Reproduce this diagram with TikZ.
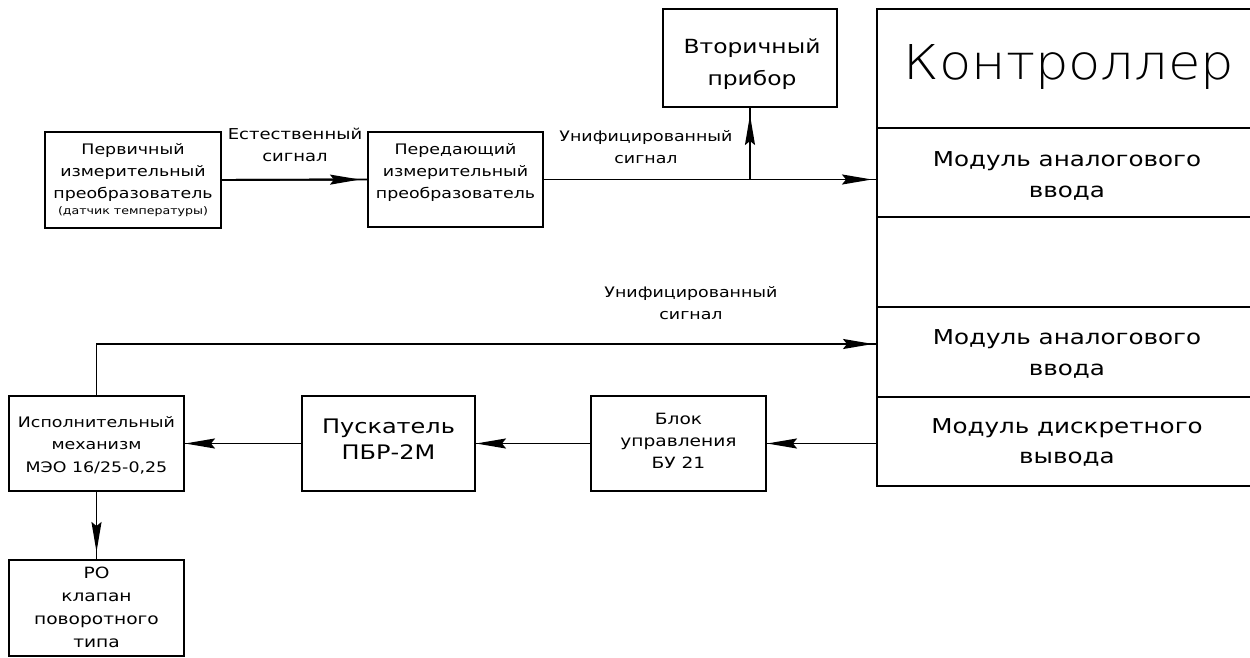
\documentclass[tikz,border=0pt]{standalone}
\usepackage{fontspec}
\setmainfont{DejaVu Sans}[FakeStretch=1.2]
\IfFontExistsTF{DejaVu Sans ExtraLight}{\newfontfamily\thinfont{DejaVu Sans ExtraLight}[FakeStretch=1.1]}{\newfontfamily\thinfont{DejaVu Sans}[FakeStretch=1.1]}
\usetikzlibrary{arrows.meta}
\newcommand\fs[2]{\fontsize{#1}{#2}\selectfont}
\begin{document}
\begin{tikzpicture}[x=1pt,y=-1pt, line width=1.9pt,
 box/.style={draw, rectangle, inner sep=0pt, outer sep=0pt, anchor=center},
 txt/.style={inner sep=0pt, outer sep=0pt, align=center, anchor=center},
 flow/.style={draw, postaction={draw, -{Stealth[length=30pt,width=10pt,inset=4pt]}, shorten >=#1}},
 flow/.default=2pt]
\useasboundingbox (0,0) rectangle (1250,658);
\fill[white] (0,0) rectangle (1250,658);

% top chain
\node[box, minimum width=176pt, minimum height=96pt] (b1) at (133,180) {};
\node[txt, font=\fs{14.5}{22}] (t1) at (133,172) {Первичный\\измерительный\\преобразователь};
\node[txt, font=\fs{10.5}{12}] (t1b) at (133,212) {(датчик температуры)};

\node[box, minimum width=175pt, minimum height=95pt] (b2) at (455.5,179.5) {};
\node[txt, font=\fs{14.5}{22}] (t2) at (455.5,172) {Передающий\\измерительный\\преобразователь};

\node[txt, font=\fs{15}{22}] (l1) at (295,145) {Естественный\\сигнал};

\node[box, minimum width=174pt, minimum height=98pt] (vt) at (750,58) {};
\node[txt, font=\fs{19.5}{32}] (tv) at (752,64) {Вторичный\\прибор};

\node[txt, font=\fs{14.5}{22}] (l2) at (646,147) {Унифицированный\\сигнал};

% controller
\node[box, minimum width=381pt, minimum height=119pt] (ctrl) at (1067.5,68.5) {};
\node[txt, font=\thinfont\fs{48}{52}] (tc) at (1069,67) {Контроллер};
\node[box, minimum width=381pt, minimum height=89pt] (m1) at (1067.5,172.5) {};
\node[box, minimum width=381pt, minimum height=90pt] (m2) at (1067.5,262) {};
\node[box, minimum width=381pt, minimum height=90pt] (m3) at (1067.5,352) {};
\node[box, minimum width=381pt, minimum height=89pt] (m4) at (1067.5,441.5) {};
\node[txt, font=\fs{20.5}{31}] (tm1) at (1067,176) {Модуль аналогового\\ввода};
\node[txt, font=\fs{20.5}{31}] (tm3) at (1067,354) {Модуль аналогового\\ввода};
\node[txt, font=\fs{20.5}{30}] (tm4) at (1067,442) {Модуль дискретного\\вывода};

\node[txt, font=\fs{14.5}{22}] (l3) at (691,303) {Унифицированный\\сигнал};

% bottom chain
\node[box, minimum width=175pt, minimum height=95pt] (isp) at (96.5,443.5) {};
\node[txt, font=\fs{14.5}{22.5}] (ti) at (96.5,445) {Исполнительный\\механизм\\МЭО 16/25-0,25};

\node[box, minimum width=173pt, minimum height=95pt] (pu) at (388.5,443.5) {};
\node[txt, font=\fs{20}{25.5}] (tp) at (388.5,439) {Пускатель\\ПБР-2М};

\node[box, minimum width=175pt, minimum height=95pt] (bl) at (678.5,443.5) {};
\node[txt, font=\fs{15.5}{22}] (tb) at (678.5,441) {Блок\\управления\\БУ 21};

\node[box, minimum width=175pt, minimum height=96pt] (ro) at (96.5,608) {};
\node[txt, font=\fs{15.5}{23}] (tr) at (96.5,607) {РО\\клапан\\поворотного\\типа};

% connectors
\coordinate (br) at (b2.east -| vt.south);
\draw[flow=8pt] (b1.east) -- (b2.west);
\draw[flow=5pt] (b2.east) -- (b2.east -| m1.west);
\draw[flow=8pt] (br) -- (vt.south);
\draw[flow=4pt] (isp.north) |- ([yshift=8pt]m3.west);
\draw[flow=1pt] (bl.east -| m4.west) -- (bl.east);
\draw[flow=1pt] (bl.west) -- (pu.east);
\draw[flow=1pt] (pu.west) -- (isp.east);
\draw[flow=8pt] (isp.south) -- (ro.north);
\end{tikzpicture}
\end{document}
